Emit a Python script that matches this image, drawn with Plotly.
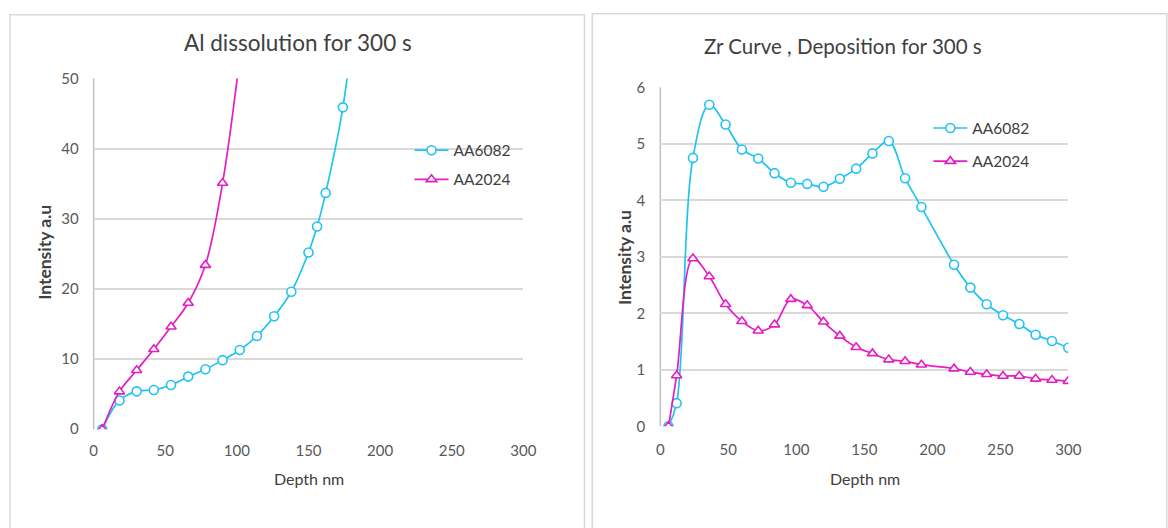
import plotly.graph_objects as go

W, H = 1168, 528

# ---------------- data ----------------
al_depth_6082 = [6, 18, 30, 42, 54, 66, 78, 90, 102, 114, 126, 138, 150, 156, 162, 174, 186]
al_int_6082 = [0, 4.1, 5.4, 5.6, 6.3, 7.5, 8.55, 9.85, 11.3, 13.3, 16.1, 19.6, 25.2, 28.9, 33.7, 45.9, 66]
al_depth_2024 = [6, 18, 30, 42, 54, 66, 78, 90, 102, 114]
al_int_2024 = [0, 5.36, 8.4, 11.4, 14.6, 18.0, 23.4, 35.1, 53, 76]

zr_depth = [6, 12, 24, 36, 48, 60, 72, 84, 96, 108, 120, 132, 144, 156, 168, 180, 192,
            216, 228, 240, 252, 264, 276, 288, 300]
zr_int_6082 = [0, 0.41, 4.75, 5.69, 5.34, 4.90, 4.74, 4.48, 4.31, 4.29, 4.24, 4.38, 4.56,
               4.83, 5.05, 4.39, 3.88, 2.86, 2.455, 2.16, 1.965, 1.81, 1.62, 1.51, 1.39]
zr_int_2024 = [0, 0.90, 2.97, 2.65, 2.16, 1.86, 1.69, 1.80, 2.25, 2.14, 1.85, 1.60, 1.40,
               1.29, 1.18, 1.15, 1.09, 1.02, 0.96, 0.92, 0.89, 0.89, 0.84, 0.82, 0.80]

series_names = ["AA6082", "AA2024"]
x_ticks = [0, 50, 100, 150, 200, 250, 300]
al_y_ticks = [0, 10, 20, 30, 40, 50]
zr_y_ticks = [0, 1, 2, 3, 4, 5, 6]

CYAN = "#21C3F2"
MAGENTA = "#E41DC6"
GRID = "#D9D9D9"
TXT = "#404040"
TICK = "#595959"
FONT = "Lato"


def px(x):
    return x / W


def py(y):
    return 1 - y / H


fig = go.Figure()

def add(xs, ys, name, color, symbol, xa, ya, legend, group):
    fig.add_trace(go.Scatter(
        x=xs, y=ys, name=name, mode="lines+markers",
        line=dict(color=color, width=1.7, shape="spline", smoothing=1.0),
        marker=dict(symbol=symbol, size=9, color="white",
                    line=dict(color=color, width=1.6)),
        xaxis=xa, yaxis=ya, legend=legend, legendgroup=group,
        cliponaxis=True,
    ))

add(al_depth_6082, al_int_6082, series_names[0], CYAN, "circle", "x", "y", "legend", "a1")
add(al_depth_2024, al_int_2024, series_names[1], MAGENTA, "triangle-up", "x", "y", "legend", "a2")
add(zr_depth, zr_int_6082, series_names[0], CYAN, "circle", "x2", "y2", "legend2", "b1")
add(zr_depth, zr_int_2024, series_names[1], MAGENTA, "triangle-up", "x2", "y2", "legend2", "b2")

tickfont = dict(family=FONT, size=15, color=TICK)
xcommon = dict(showgrid=False, zeroline=False, ticks="", showline=False, tickfont=tickfont)
ycommon = dict(showgrid=True, gridcolor=GRID, gridwidth=1.5, zeroline=False, ticks="",
               showline=False, tickfont=tickfont, ticklabelstandoff=14)

fig.update_layout(
    width=W, height=H,
    margin=dict(l=0, r=0, t=0, b=0),
    paper_bgcolor="white", plot_bgcolor="white",
    font=dict(family=FONT, color=TXT),
    xaxis=dict(domain=[px(91), px(527)], range=[0, 300], tickvals=x_ticks,
               anchor="y", ticklabelstandoff=11, **xcommon),
    yaxis=dict(domain=[py(434), py(71)], range=[0, 50], tickvals=al_y_ticks,
               anchor="x", **ycommon),
    xaxis2=dict(domain=[px(666), px(1080)], range=[0, 300], tickvals=x_ticks,
                anchor="y2", ticklabelstandoff=13, **xcommon),
    yaxis2=dict(domain=[py(431), py(80)], range=[0, 6], tickvals=zr_y_ticks,
                anchor="x2", **ycommon),
    legend=dict(x=px(411.5), y=py(128), xanchor="left", yanchor="top",
                font=dict(family=FONT, size=15.5, color=TXT),
                bgcolor="rgba(0,0,0,0)", tracegroupgap=6, itemwidth=34),
    legend2=dict(x=px(938), y=py(105), xanchor="left", yanchor="top",
                 font=dict(family=FONT, size=15.5, color=TXT),
                 bgcolor="rgba(0,0,0,0)", tracegroupgap=10, itemwidth=34),
)

# y axis lines (Excel-style vertical axis line)
for xa_px, y0, y1 in [(91, 71, 434), (666, 80, 431)]:
    fig.add_shape(type="line", xref="paper", yref="paper",
                  x0=px(xa_px), x1=px(xa_px), y0=py(y0), y1=py(y1),
                  line=dict(color="#BFBFBF", width=1.5), layer="below")

# panel borders
fig.add_shape(type="rect", xref="paper", yref="paper",
              x0=px(6), x1=px(589), y0=py(5), y1=py(540),
              line=dict(color="#D9D9D9", width=1.5), layer="below")
fig.add_shape(type="rect", xref="paper", yref="paper",
              x0=px(597), x1=px(1180), y0=py(4), y1=py(540),
              line=dict(color="#D9D9D9", width=1.5), layer="below")

ann = [
    ("Al dissolution for 300 s", 298, 34, 22.5, 0),
    ("Zr Curve , Deposition for 300 s", 851, 37, 20.5, 0),
    ("Depth nm", 309, 485, 16, 0),
    ("Depth nm", 874, 485, 16, 0),
    ("<b>Intensity a.u</b>", 41, 251, 17.5, -90),
    ("<b>Intensity a.u</b>", 629, 256, 17.5, -90),
]
for text, x, y, size, ang in ann:
    fig.add_annotation(text=text, xref="paper", yref="paper", x=px(x), y=py(y),
                       xanchor="center", yanchor="middle", showarrow=False,
                       textangle=ang,
                       font=dict(family=FONT, size=size, color=TXT))

fig.write_html("out.html")
